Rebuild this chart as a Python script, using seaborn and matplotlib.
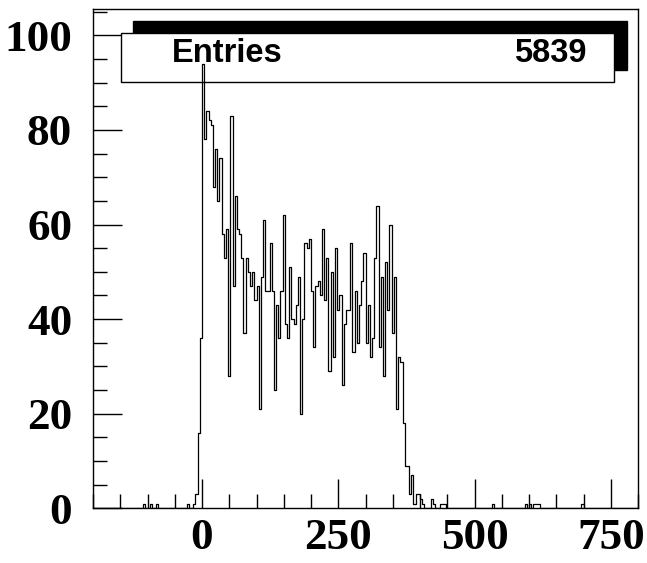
import numpy as np
import pandas as pd
import seaborn as sns
import matplotlib.pyplot as plt
from matplotlib.patches import Rectangle
from matplotlib.ticker import MultipleLocator

sns.set_theme(style="white")
plt.rcParams['font.family'] = ['Liberation Serif', 'DejaVu Serif']

# histogram binning (ROOT TH1: 250 bins from -200 to 800)
x_lo, x_hi, bin_w = -200, 800, 4

# contiguous block of counts, first bin starts at core_start
core_start = -16
core_counts = [1, 3, 16, 36, 94, 78, 84, 82, 81, 68, 76, 65, 74, 58,
               53, 59, 28, 83, 47, 66, 59, 58, 53, 37, 53, 50, 47, 50,
               44, 47, 21, 49, 61, 46, 46, 56, 46, 25, 43, 36, 46, 62,
               39, 36, 51, 40, 39, 43, 49, 20, 40, 56, 55, 57, 46, 34,
               47, 48, 45, 59, 44, 53, 29, 50, 32, 55, 42, 45, 26, 39,
               42, 42, 56, 33, 46, 35, 43, 48, 54, 35, 43, 32, 36, 53,
               64, 34, 49, 28, 52, 42, 60, 37, 49, 21, 32, 31, 18, 9,
               9, 3, 7, 1, 3, 3, 2, 1, 0, 0, 0, 2, 1, 0, 0, 1, 1, 1]

# isolated single entries outside the main block
single_hits = [-106, -94, -82, -26, 534, 594, 602, 610, 614, 618, 698]

n_entries = 5839

n_bins = int((x_hi - x_lo) / bin_w)
edges = np.linspace(x_lo, x_hi, n_bins + 1)
centers = 0.5 * (edges[:-1] + edges[1:])
counts = np.zeros(n_bins)
i0 = int(round((core_start - x_lo) / bin_w))
counts[i0:i0 + len(core_counts)] = core_counts
for h in single_hits:
    counts[np.searchsorted(edges, h, side="right") - 1] += 1

df = pd.DataFrame({"x": centers, "w": counts})

W, H = 647, 563
fig = plt.figure(figsize=(W / 100, H / 100), dpi=100)
ax = fig.add_axes([93 / W, (H - 508.3) / H, (638 - 93) / W, (508.3 - 9.3) / H])

sns.histplot(data=df, x="x", weights="w", binwidth=bin_w,
             binrange=(x_lo, x_hi), element="step",
             fill=False, color="black", linewidth=0.9, ax=ax, zorder=3)

ax.set_xlim(x_lo, x_hi)
ax.set_ylim(0, 105.5)
ax.set_xlabel("")
ax.set_ylabel("")

ax.xaxis.set_major_locator(MultipleLocator(250))
ax.xaxis.set_minor_locator(MultipleLocator(50))
ax.yaxis.set_major_locator(MultipleLocator(20))
ax.yaxis.set_minor_locator(MultipleLocator(5))
ax.tick_params(which="both", direction="in", top=False, right=False,
               bottom=True, left=True, color="black", width=1,
               labelcolor="black")
ax.tick_params(which="major", length=21, labelsize=32.5)
ax.tick_params(which="minor", length=10)
ax.tick_params(axis="x", which="major", pad=7)
ax.tick_params(axis="y", which="major", pad=15)
for lab in ax.get_xticklabels() + ax.get_yticklabels():
    lab.set_fontweight("bold")

for s in ax.spines.values():
    s.set_color("black")
    s.set_linewidth(1)

# stat box with ROOT style shadow
def fig_rect(x0, y0, x1, y1, **kw):
    return Rectangle((x0 / W, 1 - y1 / H), (x1 - x0) / W, (y1 - y0) / H,
                     transform=fig.transFigure, clip_on=False, **kw)

ax.add_patch(fig_rect(133, 21, 627, 70, facecolor="black", edgecolor="black",
                      zorder=1))
ax.add_patch(fig_rect(121, 33, 614, 82, facecolor="white", edgecolor="black",
                      linewidth=1, zorder=1.5))
ax.text(172 / W, 1 - 53.5 / H, "Entries", transform=fig.transFigure,
        family=["Liberation Sans", "DejaVu Sans"], fontweight="bold",
        fontsize=23.5, ha="left", va="center", color="black", zorder=2)
ax.text(587 / W, 1 - 53.5 / H, str(n_entries), transform=fig.transFigure,
        family=["Liberation Sans", "DejaVu Sans"], fontweight="bold",
        fontsize=23.5, ha="right", va="center", color="black", zorder=2)

fig.savefig("out.png", dpi=100, facecolor="white")
